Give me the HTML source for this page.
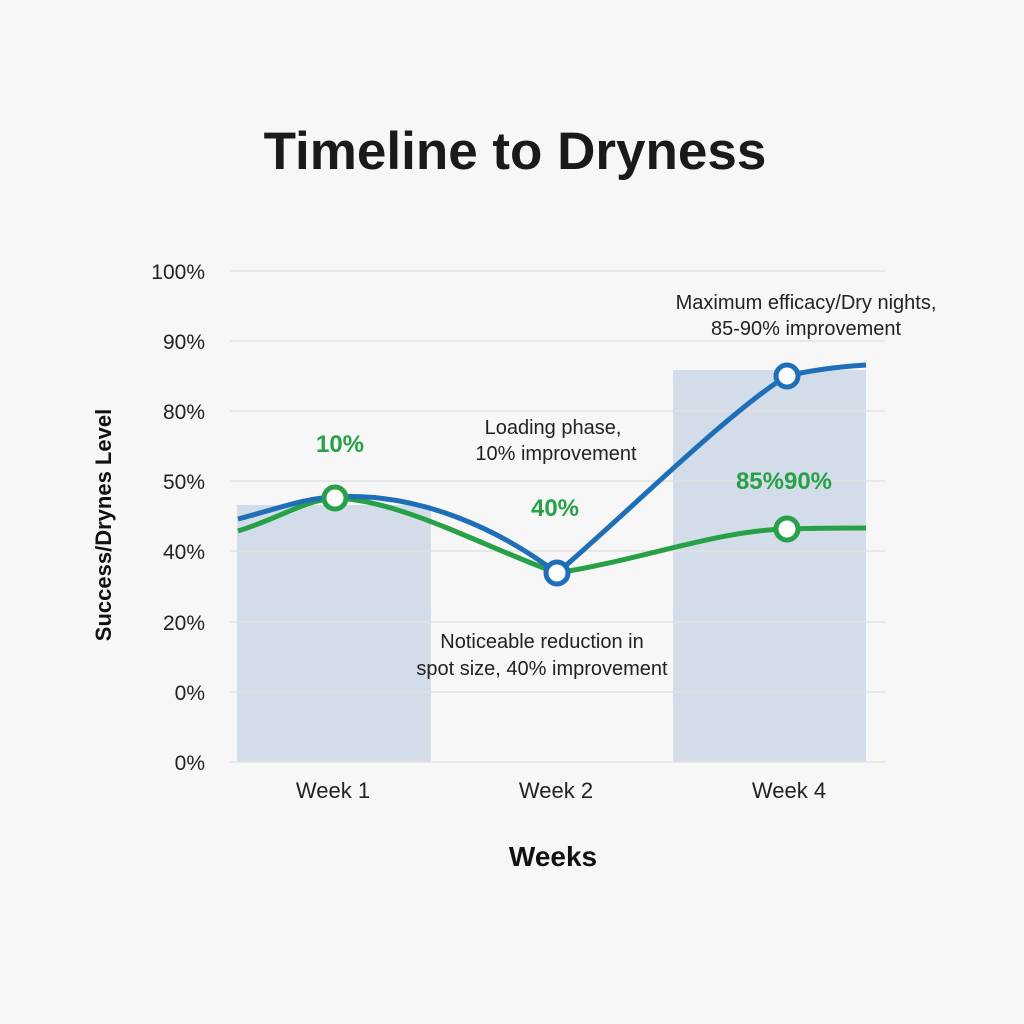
<!DOCTYPE html>
<html><head><style>
body{margin:0;background:#f7f7f7;}
svg{display:block;font-family:"Liberation Sans",sans-serif;}
</style></head><body>
<svg width="1024" height="1024" viewBox="0 0 1024 1024">
<rect width="1024" height="1024" fill="#f7f7f7"/>
<text x="515" y="169" text-anchor="middle" font-size="53" font-weight="bold" fill="#1a1a1a">Timeline to Dryness</text>
<rect x="237" y="505" width="194" height="257" fill="#d3dde9"/>
<rect x="673" y="370" width="193" height="392" fill="#d3dde9"/>
<g stroke="#e2e2e2" stroke-width="1.5">
<line x1="230" y1="271" x2="885" y2="271"/><line x1="230" y1="341" x2="885" y2="341"/>
<line x1="230" y1="411" x2="885" y2="411"/><line x1="230" y1="481" x2="885" y2="481"/>
<line x1="230" y1="551" x2="885" y2="551"/><line x1="230" y1="622" x2="885" y2="622"/>
<line x1="230" y1="692" x2="885" y2="692"/><line x1="230" y1="762" x2="885" y2="762"/>
</g>
<g font-size="21" fill="#222" text-anchor="end">
<text x="205" y="279">100%</text><text x="205" y="349">90%</text><text x="205" y="419">80%</text>
<text x="205" y="489">50%</text><text x="205" y="559">40%</text><text x="205" y="630">20%</text>
<text x="205" y="700">0%</text><text x="205" y="770">0%</text>
</g>
<text transform="translate(111,525) rotate(-90)" text-anchor="middle" font-size="22" font-weight="bold" fill="#111">Success/Drynes Level</text>
<g font-size="22" fill="#222" text-anchor="middle">
<text x="333" y="798">Week 1</text><text x="556" y="798">Week 2</text><text x="789" y="798">Week 4</text>
</g>
<text x="553" y="866" text-anchor="middle" font-size="28" font-weight="bold" fill="#111">Weeks</text>
<path d="M238,531 C280,518 305,500 335,498 C400,500 480,545 557,573 C640,560 720,530 787,529 C820,528 850,528 866,528" fill="none" stroke="#27a047" stroke-width="5"/>
<path d="M238,519 C280,508 305,498 335,497 C420,492 500,530 557,573 C620,520 730,410 787,376 C820,368 850,366 866,365" fill="none" stroke="#1f6fb8" stroke-width="5"/>
<circle cx="335" cy="498" r="11" fill="#fff" stroke="#27a047" stroke-width="5"/>
<circle cx="557" cy="573" r="11" fill="#fff" stroke="#1f6fb8" stroke-width="5"/>
<circle cx="787" cy="376" r="11" fill="#fff" stroke="#1f6fb8" stroke-width="5"/>
<circle cx="787" cy="529" r="11" fill="#fff" stroke="#27a047" stroke-width="5"/>
<g font-size="24" font-weight="bold" fill="#27a047" text-anchor="middle">
<text x="340" y="452">10%</text><text x="555" y="516">40%</text><text x="784" y="489">85%90%</text>
</g>
<g font-size="20" fill="#222" text-anchor="middle">
<text x="553" y="434">Loading phase,</text><text x="556" y="460">10% improvement</text>
<text x="542" y="648">Noticeable reduction in</text><text x="542" y="675">spot size, 40% improvement</text>
<text x="806" y="309">Maximum efficacy/Dry nights,</text><text x="806" y="335">85-90% improvement</text>
</g>
</svg>
</body></html>
